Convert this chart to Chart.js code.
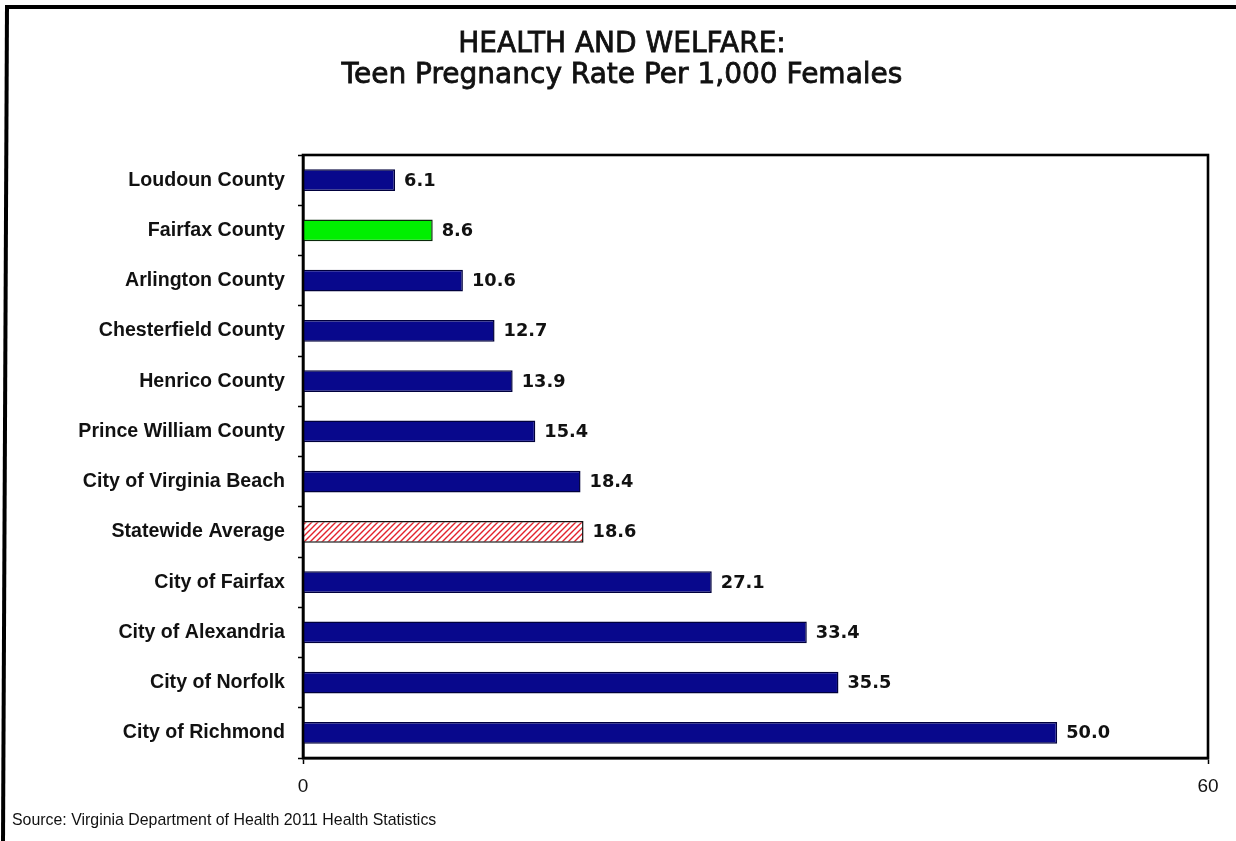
<!DOCTYPE html>
<html>
<head>
<meta charset="utf-8">
<script src="https://cdn.jsdelivr.net/npm/chart.js@4.4.1/dist/chart.umd.min.js"></script>
<style>
  html, body { margin: 0; padding: 0; background: #ffffff; }
  #wrap { width: 1236px; height: 841px; position: relative; }
</style>
</head>
<body>
<div id="wrap"><canvas id="c" width="1236" height="841"></canvas></div>
<script>
// ---- data ----
const titleLines = ['HEALTH AND WELFARE:', 'Teen Pregnancy Rate Per 1,000 Females'];
const categories = [
  'Loudoun County', 'Fairfax County', 'Arlington County', 'Chesterfield County',
  'Henrico County', 'Prince William County', 'City of Virginia Beach', 'Statewide Average',
  'City of Fairfax', 'City of Alexandria', 'City of Norfolk', 'City of Richmond'
];
const rates = [6.1, 8.6, 10.6, 12.7, 13.9, 15.4, 18.4, 18.6, 27.1, 33.4, 35.5, 50.0];
const xTickValues = [0, 60];
const highlightCategory = 'Fairfax County';
const averageCategory = 'Statewide Average';
const sourceText = 'Source: Virginia Department of Health 2011 Health Statistics';

// ---- styles ----
function hatchPattern() {
  const s = 6;
  const c = document.createElement('canvas');
  c.width = s; c.height = s;
  const g = c.getContext('2d');
  g.fillStyle = '#ffffff';
  g.fillRect(0, 0, s, s);
  g.strokeStyle = '#e3232d';
  g.lineWidth = 1.4;
  g.beginPath();
  g.moveTo(0, s); g.lineTo(s, 0);
  g.moveTo(-1, 1); g.lineTo(1, -1);
  g.moveTo(s - 1, s + 1); g.lineTo(s + 1, s - 1);
  g.stroke();
  return document.getElementById('c').getContext('2d').createPattern(c, 'repeat');
}
const pattern = hatchPattern();
const fills = categories.map(c => c === highlightCategory ? '#00f000' : (c === averageCategory ? pattern : '#08088c'));
const borders = categories.map(c => c === highlightCategory ? '#0a2a0a' : (c === averageCategory ? '#111111' : '#00003c'));

const decor = {
  id: 'decor',
  beforeDraw(chart) {
    const ctx = chart.ctx;
    ctx.save();
    ctx.fillStyle = '#ffffff';
    ctx.fillRect(0, 0, chart.width, chart.height);
    ctx.fillStyle = '#000000';
    ctx.fillRect(5, 5, chart.width, 4);
    ctx.beginPath();
    ctx.moveTo(5, 5); ctx.lineTo(9, 5); ctx.lineTo(5, chart.height); ctx.lineTo(1, chart.height);
    ctx.closePath();
    ctx.fill();
    // title
    ctx.font = '28px "DejaVu Sans"';
    ctx.fillStyle = '#111111';
    ctx.strokeStyle = '#111111';
    ctx.lineWidth = 0.8;
    ctx.textAlign = 'center';
    ctx.textBaseline = 'alphabetic';
    const baselines = [52, 82.5];
    titleLines.forEach((t, i) => {
      ctx.fillText(t, 622, baselines[i]);
      ctx.strokeText(t, 622, baselines[i]);
    });
    ctx.restore();
  },
  afterDatasetsDraw(chart) {
    const ctx = chart.ctx;
    const meta = chart.getDatasetMeta(0);
    ctx.save();
    ctx.font = 'bold 17.8px "DejaVu Sans"';
    ctx.fillStyle = '#111111';
    ctx.textBaseline = 'middle';
    ctx.textAlign = 'left';
    meta.data.forEach((bar, i) => {
      ctx.fillText(rates[i].toFixed(1), bar.x + 9, bar.y + 1);
    });
    const a = chart.chartArea;
    ctx.strokeStyle = '#000000';
    ctx.lineWidth = 2.6;
    ctx.strokeRect(a.left, a.top, a.right - a.left, a.bottom - a.top);
    ctx.font = '15.9px "Liberation Sans"';
    ctx.textBaseline = 'alphabetic';
    ctx.fillStyle = '#111111';
    ctx.fillText(sourceText, 12, 825);
    ctx.restore();
  }
};

new Chart(document.getElementById('c'), {
  type: 'bar',
  data: {
    labels: categories,
    datasets: [{
      data: rates,
      backgroundColor: fills,
      borderColor: borders,
      borderWidth: 1.5,
      barPercentage: 0.43,
      categoryPercentage: 1.0
    }]
  },
  options: {
    indexAxis: 'y',
    responsive: false,
    animation: false,
    devicePixelRatio: 1,
    layout: { padding: { left: 36, right: 28, top: 155, bottom: 0 } },
    plugins: {
      legend: { display: false },
      tooltip: { enabled: false },
      title: { display: false }
    },
    scales: {
      x: {
        type: 'linear',
        min: 0,
        max: 60,
        afterBuildTicks: s => { s.ticks = xTickValues.map(v => ({ value: v })); },
        afterFit: s => { s.height = 83; },
        grid: { drawOnChartArea: false, tickLength: 6, tickColor: '#000000', tickWidth: 1.5 },
        border: { display: true, color: '#000000', width: 2.6 },
        ticks: { color: '#111111', padding: 11, font: { family: '"Liberation Sans"', size: 19 } }
      },
      y: {
        type: 'category',
        afterFit: s => { s.width = 303 - 36; },
        grid: { drawOnChartArea: false, offset: true, tickLength: 5, tickColor: '#000000', tickWidth: 1.5 },
        border: { display: true, color: '#000000', width: 2.6 },
        ticks: { color: '#111111', padding: 13, font: { family: '"Liberation Sans"', size: 19.6, weight: 'bold' } }
      }
    }
  },
  plugins: [decor]
});
</script>
</body>
</html>
